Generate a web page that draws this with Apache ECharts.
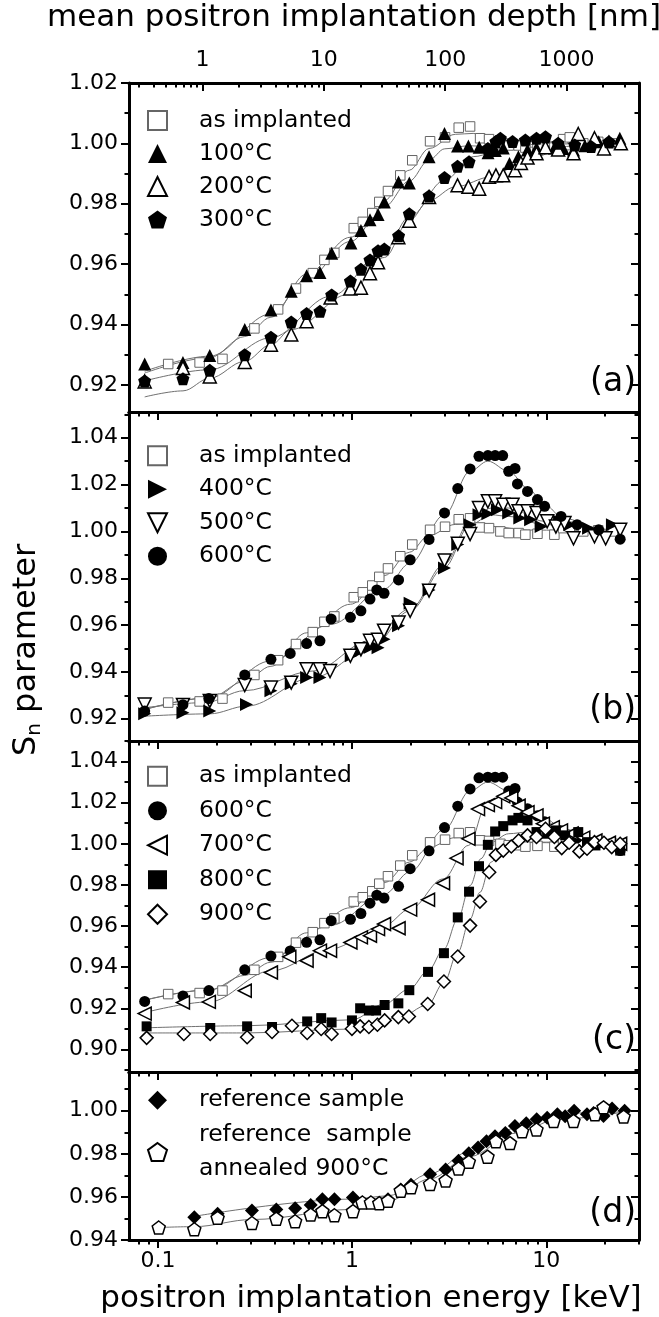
<!DOCTYPE html>
<html><head><meta charset="utf-8">
<script src="https://cdn.jsdelivr.net/npm/echarts@6/dist/echarts.min.js"></script>
<style>html,body{margin:0;padding:0;background:#fff}#c{width:659px;height:1317px}</style>
</head><body><div id="c"></div>
<script>
// ---------------- data ----------------
const asImpE = [0.113,0.164,0.215,0.314,0.416,0.514,0.627,0.72,0.81,1.02,1.135,1.27,1.38,1.53,1.77,2.04,2.52,3.01,3.54,4.05,4.56,5.07,5.8,6.4,7.2,7.8,9.0,11.0,12.2,13.2,15.5,18.5,22.0];
const asImpS = [0.9269,0.9274,0.9286,0.9387,0.945,0.9519,0.957,0.9614,0.9637,0.9719,0.974,0.9769,0.9806,0.9842,0.9894,0.9944,1.0007,1.002,1.0052,1.0056,1.0017,1.0014,1.000,0.9993,0.9993,0.9986,0.999,0.9986,1.0014,1.002,1.000,1.0005,1.000];

const h100E = [0.0855,0.1346,0.185,0.28,0.382,0.486,0.583,0.683,0.785,0.986,1.11,1.236,1.36,1.465,1.735,1.97,2.49,2.99,3.49,3.97,4.51,5.01,5.46,6.0,6.46,7.18,8.0,8.9,9.87,11.0,12.2,13.8,15.8,18.6,21.0,23.9];
const h100S = [0.9269,0.9274,0.9297,0.9383,0.9448,0.951,0.9561,0.9572,0.9636,0.967,0.9711,0.9747,0.9764,0.9806,0.9872,0.9869,0.9956,1.0033,0.9991,0.9991,0.9987,0.9969,0.9976,0.9985,0.9933,0.9956,0.9978,0.9985,0.9987,0.9985,0.9983,0.9978,0.9992,1.0005,1.0008,1.0017];

const h200E = [0.0855,0.1346,0.185,0.28,0.382,0.486,0.583,0.775,0.98,1.11,1.236,1.36,1.73,1.97,2.49,3.49,3.97,4.51,5.07,5.5,6.0,6.9,7.4,8.0,8.9,9.9,11.5,13.8,14.6,17.7,19.8,24.2];
const h200S = [0.9211,0.9256,0.9228,0.9276,0.9333,0.9367,0.9411,0.9489,0.9519,0.9522,0.957,0.9606,0.9689,0.9744,0.9822,0.9861,0.9856,0.985,0.9889,0.9894,0.9894,0.9911,0.9935,0.9953,0.9967,0.9987,0.998,0.9967,1.0031,1.0017,0.9983,1.000];

const h300E = [0.0855,0.1346,0.185,0.28,0.382,0.486,0.583,0.683,0.785,0.98,1.11,1.236,1.36,1.465,1.735,1.97,2.49,2.99,3.49,4.0,5.0,5.5,5.8,6.7,7.8,8.9,9.9,11.5,14.0,17.0,21.0];
const h300S = [0.9213,0.922,0.9248,0.93,0.9358,0.9408,0.9436,0.9444,0.9498,0.9544,0.9583,0.9614,0.9644,0.965,0.9694,0.9767,0.9826,0.9887,0.9924,0.9939,0.9983,1.0006,1.0017,1.0006,1.0011,1.0017,1.0022,1.000,0.9995,0.999,1.0005];

const h400E = [0.0855,0.1346,0.185,0.286,0.382,0.486,0.583,0.683,0.99,1.11,1.236,1.36,1.46,1.735,1.99,2.49,2.99,3.5,4.05,4.5,5.0,5.6,6.4,7.3,8.3,9.4,11.7,13.2,16.5,21.9];
const h400S = [0.9221,0.9226,0.9233,0.9261,0.932,0.935,0.9376,0.9376,0.9469,0.949,0.9504,0.9503,0.954,0.9597,0.9693,0.975,0.9844,0.9944,1.0029,1.0071,1.0076,1.0093,1.0079,1.0057,1.005,1.0021,1.0043,1.0029,1.0014,1.0029];

const h500E = [0.0855,0.1346,0.185,0.28,0.382,0.486,0.583,0.683,0.77,0.98,1.11,1.236,1.36,1.46,1.735,1.99,2.49,2.99,3.5,4.05,4.5,5.0,5.45,6.0,6.7,7.2,8.0,8.9,10.1,11.2,12.4,13.8,17.7,20.2,24.0];
const h500S = [0.9261,0.9259,0.9276,0.9344,0.9333,0.9354,0.9411,0.9411,0.9404,0.9469,0.9497,0.9533,0.9537,0.9576,0.9611,0.9661,0.9747,0.9876,0.9947,0.9989,1.01,1.0129,1.0129,1.0114,1.0114,1.0086,1.0086,1.0079,1.0043,1.0021,1.0036,0.9971,0.9979,0.9971,1.0007];

const h600E = [0.0855,0.1346,0.183,0.28,0.382,0.48,0.583,0.683,0.78,0.98,1.11,1.236,1.34,1.46,1.735,1.99,2.49,2.99,3.5,4.05,4.5,5.0,5.45,5.96,6.4,6.9,7.1,8.0,9.0,9.8,11.9,14.4,18.6,24.0];
const h600S = [0.9233,0.926,0.9286,0.9387,0.9454,0.9479,0.9521,0.9533,0.9626,0.9633,0.9661,0.9711,0.975,0.9736,0.9793,0.9879,0.9966,1.0079,1.0183,1.0267,1.0321,1.0324,1.0324,1.0324,1.0257,1.0269,1.0203,1.0171,1.0136,1.0107,1.0064,1.0029,1.0007,0.9967];

const h700E = [0.0855,0.1346,0.183,0.28,0.382,0.475,0.583,0.683,0.77,0.98,1.11,1.236,1.36,1.46,1.735,1.99,2.46,2.94,3.45,3.97,4.45,5.0,5.45,6.0,6.6,7.2,8.0,8.9,9.6,10.8,11.9,13.5,15.5,17.9,21.0,24.0];
const h700S = [0.9174,0.9228,0.9231,0.9285,0.9374,0.945,0.9431,0.948,0.948,0.952,0.9545,0.9553,0.9585,0.961,0.9589,0.968,0.9728,0.9808,0.993,1.0024,1.0169,1.0188,1.0203,1.0231,1.0223,1.0185,1.0154,1.0138,1.0098,1.0081,1.0065,1.005,1.003,1.0016,1.0005,1.000];

const h800E = [0.0875,0.186,0.288,0.387,0.587,0.693,0.784,0.998,1.1,1.22,1.33,1.47,1.73,1.97,2.46,2.97,3.5,4.0,4.5,5.0,5.45,6.0,6.7,7.18,8.0,8.9,10.1,11.2,12.5,14.6,16.2,17.9,24.0];
const h800S = [0.9112,0.9104,0.9112,0.9109,0.9136,0.9152,0.9131,0.9141,0.92,0.9189,0.9189,0.9216,0.9224,0.9288,0.9377,0.9468,0.9642,0.9767,0.9891,0.9995,1.006,1.0086,1.0114,1.0126,1.0114,1.0057,1.0049,1.0065,1.0041,1.0057,1.0008,0.9992,0.9967];

const h900E = [0.0875,0.136,0.186,0.288,0.387,0.49,0.587,0.693,0.784,0.998,1.1,1.22,1.35,1.47,1.73,1.96,2.45,2.97,3.5,4.05,4.55,5.08,5.5,6.0,6.6,7.2,8.0,8.9,9.9,11.0,12.0,13.1,14.8,16.2,17.7,19.8,21.7,24.0];
const h900S = [0.9056,0.9075,0.9075,0.9059,0.9085,0.9115,0.908,0.9099,0.9075,0.91,0.9112,0.9109,0.912,0.9141,0.9157,0.916,0.9221,0.933,0.9452,0.9602,0.9719,0.9862,0.9946,0.9967,0.9987,1.0016,1.0041,1.0033,1.0073,1.0033,0.9979,1.0005,0.9963,0.9976,1.0008,1.0005,0.9984,1.000];

const refE = [0.154,0.203,0.305,0.407,0.509,0.612,0.703,0.811,1.01,1.53,1.78,2.01,2.52,3.03,3.53,3.99,4.45,4.92,5.44,6.15,6.89,7.88,8.92,10.1,11.4,12.5,13.9,16.2,17.5,19.7,21.8,25.3];
const refS = [0.9506,0.9522,0.9537,0.9542,0.9547,0.9563,0.9589,0.9589,0.9597,0.9589,0.9634,0.9657,0.9705,0.9727,0.9768,0.9803,0.983,0.9858,0.9882,0.9897,0.9929,0.9942,0.9961,0.9968,0.9984,0.9975,1.000,0.9984,0.999,0.9976,1.0011,1.000];

const refAnnE = [0.101,0.154,0.203,0.305,0.407,0.509,0.612,0.703,0.811,1.01,1.13,1.25,1.38,1.53,1.78,2.01,2.52,3.03,3.53,3.99,4.98,5.5,6.5,7.5,8.9,10.9,13.8,17.8,19.7,25.0];
const refAnnS = [0.9458,0.945,0.9503,0.9479,0.9499,0.9487,0.9518,0.9534,0.9515,0.9534,0.9574,0.9574,0.9571,0.9582,0.9629,0.9645,0.966,0.9676,0.9732,0.9763,0.9787,0.9858,0.985,0.9905,0.9913,0.9953,0.9953,0.9984,1.0016,0.9973];

// fitted curves [energy keV, S]
const fitAsImp = [[0.0855,0.9239],[0.185,0.929],[0.28,0.936],[0.382,0.9424],[0.583,0.9567],[0.98,0.9689],[1.465,0.9811],[1.97,0.9911],[2.49,0.9983],[3.4,1.003],[4.2,1.0033],[5.2,1.0022],[8,1.0006],[22,1.000]];
const fit100 = [[0.0855,0.9245],[0.185,0.9295],[0.382,0.9435],[0.583,0.955],[0.98,0.9675],[1.465,0.979],[1.97,0.9875],[2.49,0.9945],[3.0,0.9982],[4.0,0.9992],[6,0.9986],[10,0.9988],[22,1.000]];
const fit200 = [[0.0855,0.916],[0.1346,0.918],[0.185,0.9222],[0.28,0.9278],[0.382,0.9333],[0.486,0.9383],[0.96,0.95],[1.465,0.9622],[1.97,0.9744],[2.49,0.9811],[3.4,0.9856],[5.2,0.9889],[8,0.995],[12.2,0.9978],[22,0.9994]];
const fit300 = [[0.0855,0.9213],[0.185,0.925],[0.382,0.9356],[0.78,0.9494],[1.465,0.9644],[1.97,0.9756],[3,0.9878],[4.2,0.9956],[6.5,0.9989],[10,1.0],[22,1.0]];
const fit400 = [[0.0855,0.9211],[0.185,0.9221],[0.286,0.9254],[0.63,0.9376],[1.236,0.9497],[1.99,0.9661],[2.99,0.9847],[4.05,1.0029],[5.2,1.0071],[6.4,1.0064],[9.8,1.0029],[22,1.0]];
const fit500 = [[0.0855,0.9247],[0.175,0.9269],[0.28,0.932],[0.63,0.9404],[1.236,0.9533],[1.99,0.9669],[2.99,0.9861],[4.05,1.0043],[5.2,1.01],[6.4,1.01],[9.8,1.0043],[22,1.0]];
const fit600 = [[0.0855,0.924],[0.185,0.929],[0.382,0.9447],[0.78,0.9604],[1.46,0.9754],[1.99,0.9864],[2.99,1.0071],[4.05,1.0257],[5,1.03],[6.4,1.0257],[8,1.0186],[9.8,1.0114],[12.2,1.0057],[18.6,1.0014],[22,1.0]];
const fit700 = [[0.0855,0.9179],[0.183,0.9231],[0.382,0.9382],[0.77,0.9488],[1.46,0.9602],[1.99,0.9683],[2.94,0.9829],[3.97,0.9992],[5,1.0208],[6.1,1.023],[8,1.0169],[9.8,1.0123],[12.2,1.0073],[18.6,1.0016],[22,1.0]];
const fit800 = [[0.0875,0.9105],[0.288,0.9115],[1.0,0.9144],[1.46,0.922],[1.97,0.9293],[2.46,0.9382],[2.97,0.9488],[3.5,0.9634],[4.05,0.9797],[4.6,0.9927],[5.2,1.0008],[6.4,1.0049],[8.0,1.0057],[12.2,1.0033],[22,1.0]];
const fit900 = [[0.0875,0.908],[0.288,0.908],[1.0,0.9099],[1.73,0.9152],[2.45,0.9216],[2.97,0.9325],[3.5,0.9472],[4.05,0.9634],[4.55,0.9764],[5.2,0.9911],[5.9,0.9976],[8,1.0008],[12.2,1.0008],[22,1.0]];
const fitRef = [[0.154,0.951],[1.01,0.959],[1.53,0.9605],[2.52,0.9708],[4,0.981],[7,0.992],[11.4,0.9976],[16.2,0.9992],[25.3,0.9995]];
const fitRefAnn = [[0.101,0.9458],[0.154,0.9462],[0.305,0.9495],[1.01,0.9542],[1.53,0.958],[2.52,0.9684],[4,0.9787],[7,0.9897],[11.4,0.996],[25.3,0.9995]];

// axis ticks
const xMajor = [0.1, 1, 10];
const xMinor = [0.08,0.09,0.2,0.3,0.4,0.5,0.6,0.7,0.8,0.9,2,3,4,5,6,7,8,9,20,30];
const depthMajor = [1, 10, 100, 1000];
const depthMinor = [0.3,0.4,0.5,0.6,0.7,0.8,0.9,2,3,4,5,6,7,8,9,20,30,40,50,60,70,80,90,200,300,400,500,600,700,800,900,2000,3000];
const yMajorA = [0.92,0.94,0.96,0.98,1.00,1.02];
const yMinorA = [0.93,0.95,0.97,0.99,1.01];
const yMajorB = [0.92,0.94,0.96,0.98,1.00,1.02,1.04];
const yMinorB = [0.93,0.95,0.97,0.99,1.01,1.03,1.05];
const yMajorC = [0.90,0.92,0.94,0.96,0.98,1.00,1.02,1.04];
const yMinorC = [0.89,0.91,0.93,0.95,0.97,0.99,1.01,1.03,1.05];
const yMajorD = [0.94,0.96,0.98,1.00];
const yMinorD = [0.95,0.97,0.99,1.01];

// ---------------- configuration ----------------
const FONT = 'DejaVu Sans';
const E_MIN = 0.071, E_MAX = 30;
const DEPTH_A = 17.1, DEPTH_N = 1.6;   // depth[nm] = A * E[keV]^n
const pair = (E, S) => E.map((e, i) => [e, S[i]]);

const PATH = {
  pent: 'path://M5,0L10,3.63L8.09,9.51L1.91,9.51L0,3.63Z',
  right: 'path://M0,0L10,5L0,10Z',
  left: 'path://M10,0L0,5L10,10Z',
  down: 'path://M0,0L10,0L5,10Z'
};
const ST = {
  asImp:  {symbol:'rect', size:9.5, fill:'#fff', stroke:'#666', bw:1},
  triUp:  {symbol:'triangle', size:13, fill:'#000', stroke:'#000', bw:0},
  triUpO: {symbol:'triangle', size:13, fill:'#fff', stroke:'#000', bw:1.5},
  pentF:  {symbol:PATH.pent, size:13, fill:'#000', stroke:'#000', bw:0},
  triR:   {symbol:PATH.right, size:13, fill:'#000', stroke:'#000', bw:0},
  triDO:  {symbol:PATH.down, size:13, fill:'#fff', stroke:'#000', bw:1.5},
  circ:   {symbol:'circle', size:11, fill:'#000', stroke:'#000', bw:0},
  triLO:  {symbol:PATH.left, size:13, fill:'#fff', stroke:'#000', bw:1.5},
  sqF:    {symbol:'rect', size:10, fill:'#000', stroke:'#000', bw:0},
  diaO:   {symbol:'diamond', size:13, fill:'#fff', stroke:'#000', bw:1.5},
  diaF:   {symbol:'diamond', size:14, fill:'#000', stroke:'#000', bw:0},
  pentO:  {symbol:PATH.pent, size:13, fill:'#fff', stroke:'#000', bw:1.5}
};

const panels = [
  {top:83, height:329, yMin:0.911, yMax:1.02, yMajor:yMajorA, yMinor:yMinorA, label:'(a)', labelY:382, legendTop:99, legendLH:33,
   fits:[fitAsImp, fit100, fit200, fit300],
   series:[['as implanted', asImpE, asImpS, 'asImp'], ['100°C', h100E, h100S, 'triUp'], ['200°C', h200E, h200S, 'triUpO'], ['300°C', h300E, h300S, 'pentF']]},
  {top:412, height:329, yMin:0.9105, yMax:1.051, yMajor:yMajorB, yMinor:yMinorB, label:'(b)', labelY:710, legendTop:434, legendLH:33.5,
   fits:[fitAsImp, fit400, fit500, fit600],
   series:[['as implanted', asImpE, asImpS, 'asImp'], ['400°C', h400E, h400S, 'triR'], ['500°C', h500E, h500S, 'triDO'], ['600°C', h600E, h600S, 'circ']]},
  {top:741, height:331, yMin:0.889, yMax:1.05, yMajor:yMajorC, yMinor:yMinorC, label:'(c)', labelY:1040, legendTop:754, legendLH:34.5,
   fits:[fitAsImp, fit600, fit700, fit800, fit900],
   series:[['as implanted', asImpE, asImpS, 'asImp'], ['600°C', h600E, h600S, 'circ'], ['700°C', h700E, h700S, 'triLO'], ['800°C', h800E, h800S, 'sqF'], ['900°C', h900E, h900S, 'diaO']]},
  {top:1072, height:168, yMin:0.94, yMax:1.018, yMajor:yMajorD, yMinor:yMinorD, label:'(d)', labelY:1213, legendTop:1078, legendLH:34.5,
   fits:[fitRef, fitRefAnn],
   series:[['reference sample', refE, refS, 'diaF'], ['reference  sample\nannealed 900°C', refAnnE, refAnnS, 'pentO']]}
];

const grids = [], xAxes = [], yAxes = [], series = [], legends = [], graphics = [];
const BLACK = '#000';
const lineOn = {show:true, onZero:false, lineStyle:{color:BLACK, width:3}};
const lineOff = {show:false};
const fmtE = v => (v < 1 ? v.toFixed(1) : String(Math.round(v)));

function xAx(grid, pos, opts) {
  return Object.assign({
    type:'log', logBase:10, gridIndex:grid, position:pos, min:E_MIN, max:E_MAX,
    splitLine:{show:false}, minorTick:{show:false}, axisLine:lineOff,
    axisLabel:{show:false}, axisTick:{show:false}
  }, opts);
}
function yAx(grid, pos, p, opts) {
  return Object.assign({
    type:'value', gridIndex:grid, position:pos, min:p.yMin, max:p.yMax, scale:true,
    splitLine:{show:false}, axisLine:lineOff, axisLabel:{show:false}, axisTick:{show:false}
  }, opts);
}
const tick = (vals, len, inside) => ({show:true, customValues:vals, length:len, inside:inside, lineStyle:{color:BLACK, width:2}});

panels.forEach((p, i) => {
  const rect = {left:129, right:20, top:p.top, height:p.height};
  const g = grids.length;
  grids.push(Object.assign({}, rect), Object.assign({}, rect));
  const last = i === panels.length - 1;
  const xb = xAxes.length;
  xAxes.push(xAx(g, 'bottom', {axisLine:lineOn, axisTick:tick(xMajor, 8, false),
    axisLabel: last ? {show:true, customValues:xMajor, formatter:fmtE, margin:10, color:BLACK, fontFamily:FONT, fontSize:22} : {show:false}}));
  if (i === 0) {
    xAxes.push({type:'log', logBase:10, gridIndex:g, position:'top',
      min: DEPTH_A * Math.pow(E_MIN, DEPTH_N), max: DEPTH_A * Math.pow(E_MAX, DEPTH_N),
      splitLine:{show:false}, axisLine:lineOn, axisTick:tick(depthMajor, 8, true),
      axisLabel:{show:true, customValues:depthMajor, formatter:v => String(Math.round(v)), margin:12, color:BLACK, fontFamily:FONT, fontSize:22}});
  } else {
    xAxes.push(xAx(g, 'top', {axisLine:lineOn}));
  }
  xAxes.push(xAx(g + 1, 'bottom', {axisTick:tick(xMinor, 4.5, false)}));
  if (i === 0) {
    xAxes.push({type:'log', logBase:10, gridIndex:g + 1, position:'top',
      min: DEPTH_A * Math.pow(E_MIN, DEPTH_N), max: DEPTH_A * Math.pow(E_MAX, DEPTH_N),
      splitLine:{show:false}, axisLine:lineOff, axisLabel:{show:false}, axisTick:tick(depthMinor, 4.5, true)});
  }
  const yb = yAxes.length;
  yAxes.push(yAx(g, 'left', p, {axisLine:lineOn, axisTick:tick(p.yMajor, 8, false),
    axisLabel:{show:true, customValues:p.yMajor, formatter:v => v.toFixed(2), margin:11, color:BLACK, fontFamily:FONT, fontSize:22}}));
  yAxes.push(yAx(g, 'right', p, {axisLine:lineOn, axisTick:tick(p.yMajor, 8, true)}));
  yAxes.push(yAx(g + 1, 'left', p, {axisTick:tick(p.yMinor, 4.5, false)}));
  yAxes.push(yAx(g + 1, 'right', p, {axisTick:tick(p.yMinor, 4.5, true)}));

  p.fits.forEach((f, k) => series.push({
    type:'line', name:'fit' + i + '_' + k, xAxisIndex:xb, yAxisIndex:yb, data:f,
    showSymbol:false, smooth:0.35, smoothMonotone:'x', z:1, silent:true,
    lineStyle:{color:'#707070', width:1}
  }));
  p.series.forEach(s => {
    const st = ST[s[3]];
    series.push({
      type:'scatter', name:s[0], xAxisIndex:xb, yAxisIndex:yb, data:pair(s[1], s[2]),
      symbol:st.symbol, symbolSize:st.size, z:2,
      itemStyle:{color:st.fill, borderColor:st.stroke, borderWidth:st.bw, opacity:1}
    });
  });
  legends.push({
    orient:'vertical', left:142, top:p.legendTop, itemWidth:19, itemHeight:19, itemGap:0,
    selectedMode:false, data:p.series.map(s => s[0]),
    textStyle:{fontFamily:FONT, fontSize:23.5, color:BLACK, lineHeight:p.legendLH, padding:[0,0,0,27]}
  });
  graphics.push({type:'text', z:10, style:{x:636, y:p.labelY, text:p.label, align:'right', verticalAlign:'middle',
    font:'33px "DejaVu Sans"', fill:BLACK}});
});

graphics.push({type:'text', z:10, style:{x:354, y:18, text:'mean positron implantation depth [nm]', align:'center', verticalAlign:'middle', font:'31px "DejaVu Sans"', fill:BLACK}});
graphics.push({type:'text', z:10, style:{x:371, y:1299, text:'positron implantation energy [keV]', align:'center', verticalAlign:'middle', font:'31px "DejaVu Sans"', fill:BLACK}});
graphics.push({type:'text', z:10, x:27, y:650, rotation:Math.PI / 2,
  style:{text:'{s|S}{n|n}{s| parameter}', align:'center', verticalAlign:'middle', fill:BLACK,
    rich:{s:{fontFamily:FONT, fontSize:32, lineHeight:36, fill:BLACK}, n:{fontFamily:FONT, fontSize:20, lineHeight:36, verticalAlign:'bottom', padding:[13,0,0,0], fill:BLACK}}}});

const chart = echarts.init(document.getElementById('c'), null, {renderer:'canvas'});
chart.setOption({
  backgroundColor:'#fff', animation:false,
  grid:grids, xAxis:xAxes, yAxis:yAxes, series:series, legend:legends, graphic:graphics
});
</script></body></html>
